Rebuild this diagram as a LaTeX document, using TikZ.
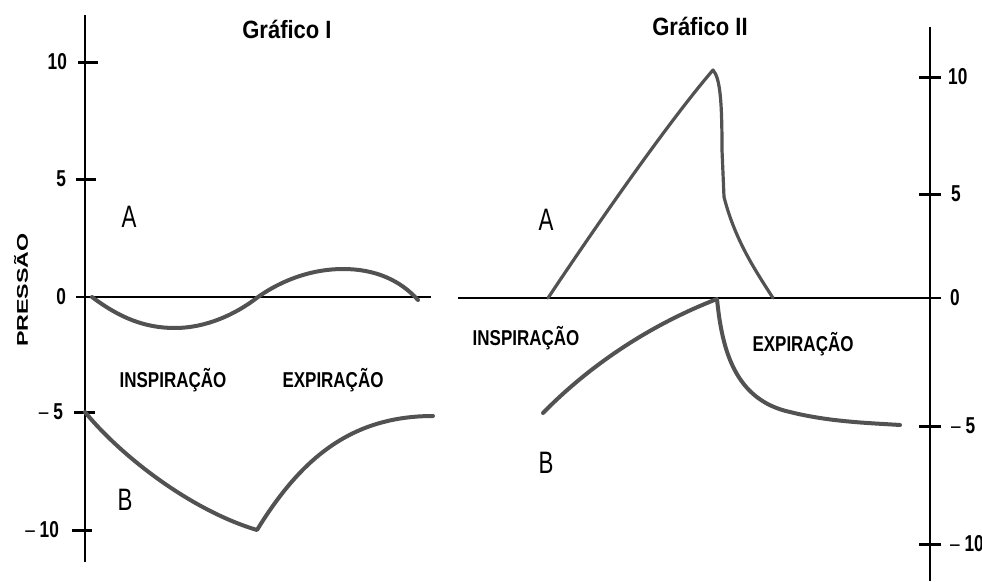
\documentclass[tikz,border=0pt]{standalone}
\usepackage{fontspec}
\setmainfont{Liberation Sans}
\usetikzlibrary{positioning}

\tikzset{
    pcurve/.style={line width=4pt, black!68, line cap=round, line join=round},
    axisline/.style={line width=2pt, black},
    tickmark/.style={line width=3pt, black},
    ticklabel/.style={font=\bfseries\fontsize{23}{23}\selectfont, xscale=0.75, inner sep=0pt},
    phaselabel/.style={font=\bfseries\fontsize{21.5}{21.5}\selectfont, xscale=0.79, inner sep=0pt, anchor=base},
    graphtitle/.style={font=\bfseries\fontsize{25}{25}\selectfont, xscale=0.88, inner sep=0pt, anchor=base},
    curvelabel/.style={font=\fontsize{31}{31}\selectfont, xscale=0.72, inner sep=0pt, anchor=base}
}

\begin{document}
\begin{tikzpicture}[x=1pt, y=-1pt]
    \useasboundingbox (0,0) rectangle (982,581);

    % Grafico I
    \node[graphtitle] (titleone) at (287,38) {Gráfico I};
    \draw[axisline] (85,15) -- (85,562);
    \draw[axisline] (76,297) -- (431,297);
    \draw[tickmark] (78,62) -- (98,62);
    \draw[tickmark] (76,179) -- (96,179);
    \draw[tickmark] (74,412) -- (95,412);
    \draw[tickmark] (72,530) -- (92,530);
    \node[ticklabel, anchor=east] (lten) at (67,62) {10};
    \node[ticklabel, anchor=east] (lfive) at (66,179) {5};
    \node[ticklabel, anchor=east] (lzero) at (66,297) {0};
    \node[ticklabel, anchor=east] (lmfive) at (63,412) {{\mdseries –} 5};
    \node[ticklabel, anchor=east] (lmten) at (59,530) {{\mdseries –} 10};
    \node[font=\bfseries\fontsize{15.5}{15.5}\selectfont, inner sep=0pt, rotate=90, xscale=1.5] (pressao) at (21,290) {PRESSÃO};

    % curves A and B, left
    \draw[pcurve] (92,297) .. controls (120,318) and (145,328) .. (175,328)
        .. controls (205,328) and (235,315) .. (258,297)
        .. controls (285,278) and (315,269) .. (343,269)
        .. controls (375,269) and (400,280) .. (418,300);
    \draw[pcurve] (85,412) .. controls (120,455) and (190,510) .. (257,530)
        .. controls (300,460) and (350,416) .. (433,416);
    \node[curvelabel] (leftA) at (129,227) {A};
    \node[curvelabel] (leftB) at (125,510) {B};
    \node[phaselabel] (leftinsp) at (173,387) {INSPIRAÇÃO};
    \node[phaselabel] (leftexp) at (333,387) {EXPIRAÇÃO};

    % Grafico II
    \node[graphtitle] (titletwo) at (700,35) {Gráfico II};
    \draw[axisline] (930,27) -- (930,581);
    \draw[axisline] (458,298) -- (941,298);
    \draw[tickmark] (919,77) -- (941,77);
    \draw[tickmark] (919,194) -- (941,194);
    \draw[tickmark] (919,426) -- (941,426);
    \draw[tickmark] (919,544) -- (941,544);
    \node[ticklabel, anchor=west] (rten) at (948,77) {10};
    \node[ticklabel, anchor=west] (rfive) at (951,194) {5};
    \node[ticklabel, anchor=west] (rzero) at (950,298) {0};
    \node[ticklabel, anchor=west] (rmfive) at (951,426) {{\mdseries –} 5};
    \node[ticklabel, anchor=west] (rmten) at (950,544) {{\mdseries –} 10};

    % curves A and B, right
    \draw[pcurve, line width=3.2pt] (548,298) .. controls (600,220) and (670,120) .. (713,70)
        .. controls (720,78) and (722,100) .. (722,150) -- (724,197)
        .. controls (735,240) and (755,270) .. (773,298);
    \draw[pcurve] (543,413) .. controls (590,365) and (650,325) .. (717,299)
        .. controls (722,350) and (735,400) .. (790,412)
        .. controls (830,422) and (870,423) .. (900,425);
    \node[curvelabel] (rightA) at (546,230) {A};
    \node[curvelabel] (rightB) at (546,473) {B};
    \node[phaselabel] (rightinsp) at (526,345) {INSPIRAÇÃO};
    \node[phaselabel] (rightexp) at (803,351) {EXPIRAÇÃO};
\end{tikzpicture}
\end{document}
